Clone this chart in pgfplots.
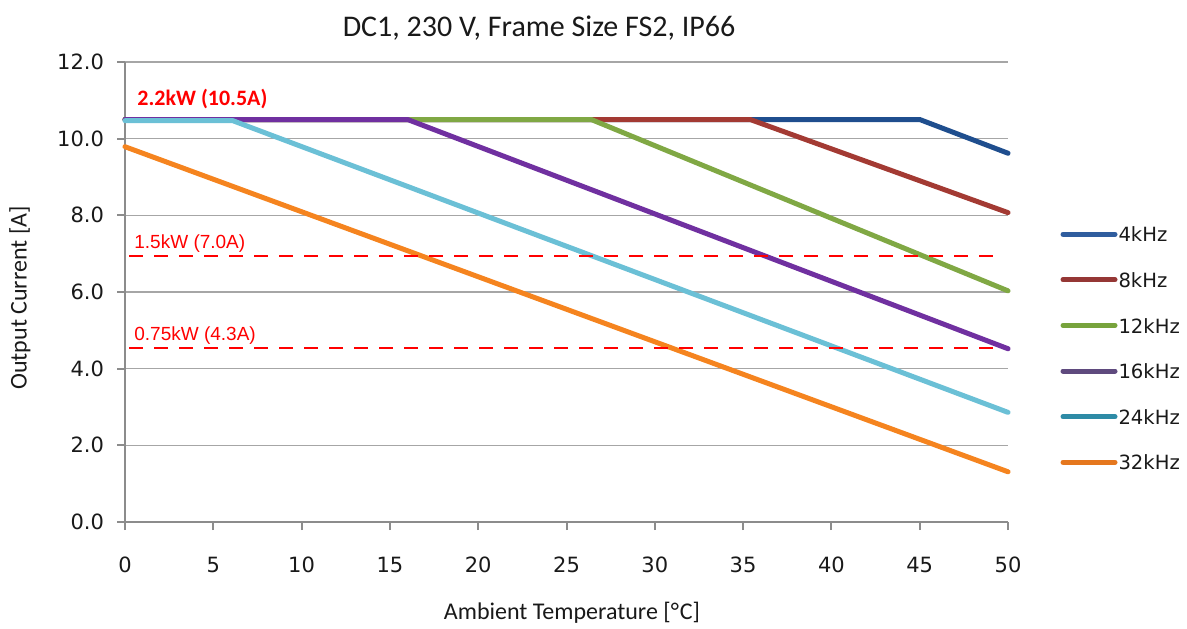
\documentclass[border=0pt]{standalone}
\usepackage{pgfplots}
\pgfplotsset{compat=1.18}
\usepackage{fontspec}
\setmainfont{Carlito}
\newfontfamily\dejavu{DejaVu Sans}
\newfontfamily\arialf{Liberation Sans}
\definecolor{cA}{HTML}{1F4E8E}
\definecolor{cB}{HTML}{A33A33}
\definecolor{cC}{HTML}{80A844}
\definecolor{cD}{HTML}{7030A0}
\definecolor{cE}{HTML}{6BC0D6}
\definecolor{cF}{HTML}{F5841F}
\definecolor{lA}{HTML}{2F5D9E}
\definecolor{lB}{HTML}{953735}
\definecolor{lC}{HTML}{77A33C}
\definecolor{lD}{HTML}{5F4A7E}
\definecolor{lE}{HTML}{2E8BA6}
\definecolor{lF}{HTML}{E5771E}
\definecolor{gridc}{HTML}{A6A6A6}
\definecolor{axisc}{HTML}{8C8C8C}
\begin{document}
\begin{tikzpicture}
\path[use as bounding box] (0,0) rectangle (593.5pt,314pt);
\begin{axis}[
  at={(62.5pt,53pt)}, anchor=south west,
  scale only axis, width=441.5pt, height=230pt,
  xmin=0, xmax=50, ymin=0, ymax=12,
  xtick={0,5,...,50}, ytick={0,2,...,12},
  axis lines*=left,
  axis line style={axisc, line width=1pt, -},
  ymajorgrids, grid style={gridc, line width=0.75pt},
  tick style={axisc, line width=1pt},
  tick align=outside, major tick length=4pt,
  /pgf/number format/assume math mode=true,
  ticklabel style={font=\dejavu\fontsize{10.5}{12}\selectfont, text=black!90},
  yticklabel style={/pgf/number format/fixed, /pgf/number format/fixed zerofill, /pgf/number format/precision=1, xshift=-3pt},
  xticklabel style={yshift=-10pt},
  legend image code/.code={\draw[#1] (0pt,0pt) -- (26pt,0pt);},
  legend style={draw=none, fill=none, at={(1.059,0.643)}, anchor=north west,
    inner sep=0pt, row sep=15.2pt,
    nodes={inner xsep=0.5pt, inner ysep=0pt, text height=7.6pt, text depth=0pt,
      font=\dejavu\fontsize{9.8}{11}\selectfont, text=black!90}},
  legend cell align=left,
  clip=false,
]
\addplot[cA, line width=2.5pt, line cap=round, line join=round, forget plot] coordinates {(0,10.5)(45,10.5)(50,9.62)};
\addplot[cB, line width=2.5pt, line cap=round, line join=round, forget plot] coordinates {(0,10.5)(35.4,10.5)(50,8.07)};
\addplot[cC, line width=2.5pt, line cap=round, line join=round, forget plot] coordinates {(0,10.5)(26.4,10.5)(50,6.03)};
\addplot[cD, line width=2.5pt, line cap=round, line join=round, forget plot] coordinates {(0,10.5)(16,10.5)(50,4.52)};
\addplot[cE, line width=2.5pt, line cap=round, line join=round, forget plot] coordinates {(0,10.47)(6.1,10.47)(50,2.86)};
\addplot[cF, line width=2.5pt, line cap=round, line join=round, forget plot] coordinates {(0,9.79)(50,1.31)};
\addplot[red, line width=1pt, dash pattern=on 7pt off 5.5pt, forget plot] coordinates {(0.25,6.94)(49.6,6.94)};
\addplot[red, line width=1pt, dash pattern=on 7pt off 5.5pt, forget plot] coordinates {(0.25,4.53)(49.6,4.53)};
\addlegendimage{lA, line width=2.5pt, line cap=round}
\addlegendentry{4kHz}
\addlegendimage{lB, line width=2.5pt, line cap=round}
\addlegendentry{8kHz}
\addlegendimage{lC, line width=2.5pt, line cap=round}
\addlegendentry{12kHz}
\addlegendimage{lD, line width=2.5pt, line cap=round}
\addlegendentry{16kHz}
\addlegendimage{lE, line width=2.5pt, line cap=round}
\addlegendentry{24kHz}
\addlegendimage{lF, line width=2.5pt, line cap=round}
\addlegendentry{32kHz}
\end{axis}
\node[font=\fontsize{15}{18}\selectfont, text=black!90] at (269.5pt,300pt) {DC1, 230 V, Frame Size FS2, IP66};
\node[font=\fontsize{12}{14}\selectfont, text=black!90] at (286pt,7.5pt) {Ambient Temperature [°\kern0.5pt C]};
\node[font=\fontsize{12}{14}\selectfont, text=black!90, rotate=90] at (10pt,165pt) {Output Current [A]};
\node[font=\bfseries\fontsize{11}{13}\selectfont, text=red, anchor=base west, inner sep=0pt] at (68.5pt,261.5pt) {2.2kW (10.5A)};
\node[font=\arialf\fontsize{9.5}{11}\selectfont, text=red, anchor=base west, inner sep=0pt] at (67pt,190pt) {1.5kW (7.0A)};
\node[font=\arialf\fontsize{9.5}{11}\selectfont, text=red, anchor=base west, inner sep=0pt] at (67pt,144pt) {0.75kW (4.3A)};
\end{tikzpicture}
\end{document}
